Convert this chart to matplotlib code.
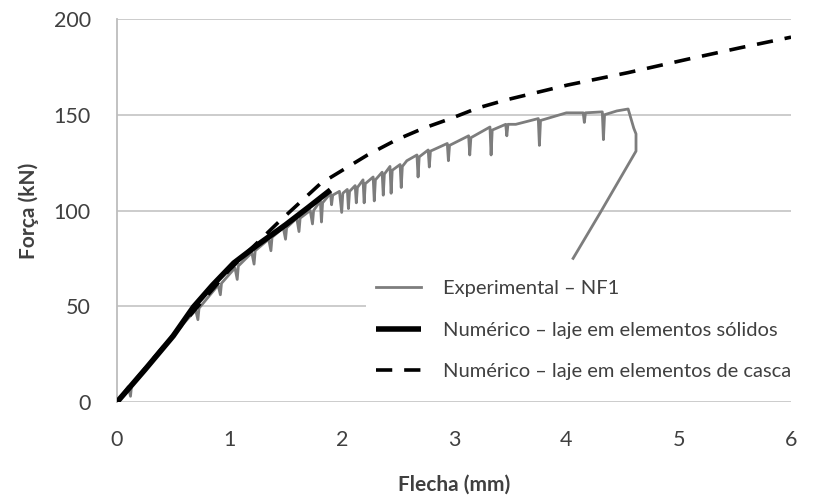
import matplotlib
matplotlib.use('Agg')
import matplotlib.pyplot as plt

plt.rcParams['font.family'] = ['Lato', 'DejaVu Sans']

# experimental curve NF1 (flecha mm, forca kN)
exp_x = [0, 0.1, 0.12, 0.13, 0.3, 0.5, 0.7, 0.72, 0.73, 0.9, 0.92, 0.93,
         1.05, 1.07, 1.08, 1.2, 1.22, 1.23, 1.35, 1.37, 1.38, 1.48, 1.5, 1.51,
         1.6, 1.62, 1.63, 1.72, 1.74, 1.75, 1.81, 1.82, 1.83, 1.90, 1.91, 1.92,
         1.98, 2.0, 2.01, 2.05, 2.06, 2.07, 2.12, 2.13, 2.14, 2.19, 2.2, 2.21,
         2.28, 2.29, 2.3, 2.36, 2.37, 2.38, 2.43, 2.44, 2.45, 2.52, 2.53, 2.54,
         2.58, 2.67, 2.68, 2.69, 2.77, 2.78, 2.79,
         2.94, 2.95, 2.96, 3.13, 3.14, 3.15, 3.32, 3.33, 3.34, 3.46, 3.47, 3.48,
         3.55, 3.75, 3.76, 3.77, 4.0, 4.15, 4.16, 4.17, 4.32, 4.33, 4.34, 4.45,
         4.55, 4.60, 4.62, 4.62, 4.30, 4.06]
exp_y = [0, 8, 3, 9, 21, 35, 48, 43, 49, 61, 56, 62,
         70, 64, 71, 78, 72, 79, 85, 79, 86, 91, 85, 91,
         96, 89, 96, 100, 93, 100, 105, 94, 104, 109, 103, 108,
         110, 99, 109, 111, 101, 110, 113, 104, 112, 116, 104, 114,
         117.5, 105, 116, 120, 108, 119, 123, 109, 121, 124, 112, 123,
         126, 129, 117.5, 128, 131.6, 122.7, 131,
         135, 126, 134, 139, 129, 138, 143.6, 129, 142, 145, 139, 145,
         145, 148, 134, 147, 151, 151, 146, 151, 151.5, 137, 150, 152,
         153, 143, 140, 131, 98.7, 75]

# numerical - solid elements
sol_x = [0, 0.25, 0.5, 0.68, 0.85, 1.04, 1.25, 1.5, 1.7, 1.9]
sol_y = [0, 17, 34.5, 49.6, 61, 72.6, 82, 92.5, 101.5, 110.7]

# numerical - shell elements
shell_x = [0, 0.5, 1.0, 1.43, 1.81, 2.23, 2.49, 2.73, 2.97, 3.21, 3.46,
           4.01, 4.55, 5.08, 5.55, 6.0]
shell_y = [0, 35, 69, 93.5, 114, 129, 137, 143, 148, 153.5, 157.7,
           165.5, 172, 179, 185, 190.5]

txt = '#404040'

fig = plt.figure(figsize=(8.27, 4.97), dpi=100)
ax = fig.add_axes([0.1415, 0.1911, 0.815, 0.7707])

ax.plot(exp_x, exp_y, color='#7d7d7d', lw=2, label='Experimental – NF1', zorder=3)
ax.plot(sol_x, sol_y, color='black', lw=4, label='Numérico – laje em elementos sólidos',
        solid_capstyle='butt', zorder=4)
ax.plot(shell_x, shell_y, color='black', lw=2.6, dashes=(4.5, 3.3),
        label='Numérico – laje em elementos de casca', zorder=4)

ax.set_xlim(0, 6)
ax.set_ylim(0, 200)
ax.set_xticks([0, 1, 2, 3, 4, 5, 6])
ax.set_yticks([0, 50, 100, 150, 200])
ax.grid(axis='y', color='#c8c8c8', lw=1.3)
ax.set_axisbelow(True)
for s in ['top', 'right', 'bottom']:
    ax.spines[s].set_visible(False)
ax.spines['left'].set_color('#bdbdbd')
ax.spines['left'].set_linewidth(1.3)
ax.tick_params(length=0, labelsize=15.5, colors=txt)
ax.tick_params(axis='x', pad=20)
ax.tick_params(axis='y', pad=19)

ax.set_xlabel('Flecha (mm)', fontsize=15, fontweight='bold', color=txt, labelpad=18)
ax.set_ylabel('Força (kN)', fontsize=15, fontweight='bold', color=txt, labelpad=10)

leg = ax.legend(loc='center left', bbox_to_anchor=(0.369, 0.188), frameon=True,
                fontsize=14.5, handlelength=2.25, handletextpad=1.1,
                labelspacing=1.2, borderpad=0.5, borderaxespad=0)
leg.get_frame().set_facecolor('white')
leg.get_frame().set_edgecolor('none')
leg.get_frame().set_alpha(1)
for t in leg.get_texts():
    t.set_color(txt)

fig.savefig('out.png', dpi=100)
